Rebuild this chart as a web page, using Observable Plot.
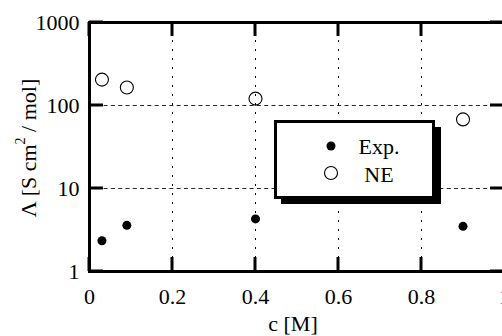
<!DOCTYPE html>
<html>
<head>
<meta charset="utf-8">
<script src="https://cdn.jsdelivr.net/npm/d3@7"></script>
<script src="https://cdn.jsdelivr.net/npm/@observablehq/plot@0.6"></script>
<style>
  html, body { margin: 0; padding: 0; background: #fff; overflow: hidden; }
  #chart { width: 502px; height: 336px; overflow: hidden; position: relative; }
  #chart svg, #chart svg text { font-family: "Liberation Serif", "Times New Roman", serif; }
</style>
</head>
<body>
<div id="chart"></div>
<script>
// Data
const conc = [0.03, 0.09, 0.4, 0.9];             // c [M]
const expValues = [2.35, 3.6, 4.3, 3.5];          // Exp.
const neValues = [205, 165, 121, 68];             // NE
const xTicks = [0, 0.2, 0.4, 0.6, 0.8, 1];
const yTicks = [1, 10, 100, 1000];
const xGrid = [0.2, 0.4, 0.6, 0.8];
const yGrid = [10, 100];
const seriesNames = ["Exp.", "NE"];
const xLabel = "c [M]";

const expData = conc.map((c, i) => ({c, v: expValues[i]}));
const neData = conc.map((c, i) => ({c, v: neValues[i]}));

const font = "'Liberation Serif', 'Times New Roman', serif";
const W = 502, H = 336, mL = 89, mR = -2, mT = 22, mB = 65;
const tickLen = 14;
const xDomain = [0, 1], yDomain = [1, 1000];

// scales built with d3 using the same domain/range as Plot's, used only for the inward tick marks
const tx = d3.scaleLinear().domain(xDomain).range([mL, W - mR]);
const ty = d3.scaleLog().domain(yDomain).range([H - mB, mT]);

const svg = Plot.plot({
  width: W,
  height: H,
  marginLeft: mL,
  marginRight: mR,
  marginTop: mT,
  marginBottom: mB,
  style: {fontFamily: font, fontSize: "22px", color: "black", background: "white"},
  x: {domain: xDomain},
  y: {type: "log", domain: yDomain},
  marks: [
    Plot.gridX(xGrid, {stroke: "black", strokeOpacity: 1, strokeWidth: 1, strokeDasharray: "2,7"}),
    Plot.gridY(yGrid, {stroke: "black", strokeOpacity: 0.85, strokeWidth: 1, strokeDasharray: "4,3.3"}),
    Plot.axisX(xTicks, {anchor: "bottom", tickSize: 0, tickPadding: 17,
      tickFormat: d => String(d), label: null, fontSize: 22, fontFamily: font}),
    Plot.axisY(yTicks, {anchor: "left", tickSize: 0, tickPadding: 10,
      tickFormat: d => String(d), label: null, fontSize: 22, fontFamily: font}),
    Plot.frame({stroke: "black", strokeWidth: 3}),
    Plot.dot(expData, {x: "c", y: "v", r: 4.5, fill: "black", stroke: "none"}),
    Plot.dot(neData, {x: "c", y: "v", r: 6.5, fill: "none", stroke: "black", strokeWidth: 1.1}),
    Plot.text([xLabel], {frameAnchor: "bottom", dx: -4, dy: 52, lineAnchor: "middle",
      fontSize: 22, fontFamily: font, fill: "black"})
  ]
});

const s = d3.select(svg);
const xl = tx(xDomain[0]), xr = tx(xDomain[1]);
const yb = ty(yDomain[0]), yt = ty(yDomain[1]);

// inward tick marks on all four sides
let d = "";
xTicks.forEach(v => {
  const px = tx(v);
  d += `M${px},${yb}V${yb - tickLen}M${px},${yt}V${yt + tickLen}`;
});
yTicks.forEach(v => {
  const py = ty(v);
  d += `M${xl},${py}H${xl + tickLen}M${xr},${py}H${xr - tickLen}`;
});
s.append("path").attr("d", d).attr("fill", "none").attr("stroke", "#000").attr("stroke-width", 3);

// y-axis label with superscript
const yl = s.append("text")
  .attr("transform", "translate(28,148) rotate(-90)")
  .attr("text-anchor", "middle")
  .attr("dominant-baseline", "central")
  .style("font-family", font)
  .attr("font-size", 22)
  .attr("fill", "black");
yl.append("tspan").text("Λ [S cm");
yl.append("tspan").attr("font-size", 14).attr("dy", -8).text("2");
yl.append("tspan").attr("dy", 8).text(" / mol]");

// legend box with shadow
const lg = s.append("g");
lg.append("rect").attr("x", 281).attr("y", 127).attr("width", 160).attr("height", 77).attr("fill", "black");
lg.append("rect").attr("x", 275.5).attr("y", 121.5).attr("width", 158).attr("height", 76)
  .attr("fill", "white").attr("stroke", "black").attr("stroke-width", 3);
lg.append("circle").attr("cx", 331).attr("cy", 146).attr("r", 4.5).attr("fill", "black");
lg.append("circle").attr("cx", 331).attr("cy", 173).attr("r", 6.5).attr("fill", "none")
  .attr("stroke", "black").attr("stroke-width", 1.1);
lg.append("text").attr("x", 379).attr("y", 154).style("font-family", font).attr("font-size", 22)
  .attr("fill", "black").text(seriesNames[0]);
lg.append("text").attr("x", 379).attr("y", 182).style("font-family", font).attr("font-size", 22)
  .attr("fill", "black").text(seriesNames[1]);

document.getElementById("chart").appendChild(svg);
</script>
</body>
</html>
